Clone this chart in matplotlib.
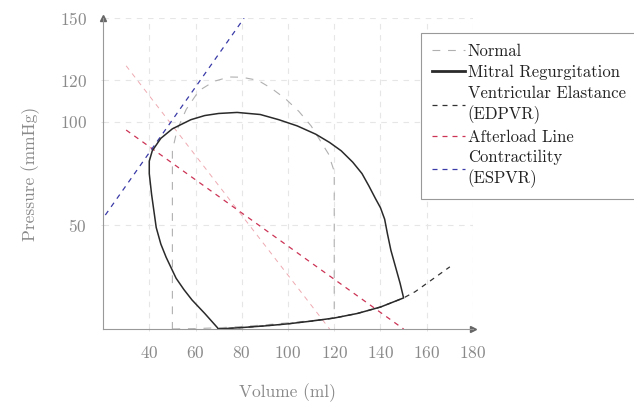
import numpy as np
import matplotlib
matplotlib.use("Agg")
import matplotlib.pyplot as plt

plt.rcParams['font.family'] = 'serif'
plt.rcParams['font.serif'] = ['cmr10', 'DejaVu Serif']
plt.rcParams['axes.formatter.use_mathtext'] = True

# mitral regurgitation loop (volume ml, pressure mmHg)
mr_vol = [70, 80, 90, 100, 110, 120, 130, 140, 150,
          148.5, 146.5, 144.5, 143, 141.8, 140, 137.8, 135, 132, 128, 123, 118, 112, 104, 96, 88, 78,
          70, 64, 58, 50, 45, 41.3, 40, 40, 41, 42, 43, 45, 47.3, 51.6, 55, 58.5, 64, 70]
mr_pres = [0, 0.7, 1.5, 2.5, 3.8, 5.3, 7.5, 10.6, 15,
           22, 30, 38, 46, 53, 58.5, 63, 69, 75, 80.5, 86, 90, 94, 98, 101, 103.5, 104.5,
           104, 103, 101, 96.6, 92, 86, 81, 75, 65, 57, 49, 41, 34.6, 24.5, 19, 14, 7.5, 0]

# normal loop
normal_vol = [50, 60, 70, 80, 90, 100, 110, 120, 120, 117.5, 110, 104.7, 99, 93, 87, 80,
              74.5, 68, 61.5, 56, 52, 50, 50]
normal_pres = [0, 0.2, 0.6, 1.2, 2, 3, 4, 5.3, 76, 84.5, 98, 105, 111, 116, 120, 121.5,
               121.6, 119.5, 115, 106, 96, 86, 0]

# end-diastolic pressure-volume relation
edpvr_vol = [70, 80, 90, 100, 110, 120, 130, 140, 150, 155, 160, 165, 170]
edpvr_pres = [0, 0.7, 1.5, 2.5, 3.8, 5.3, 7.5, 10.6, 15, 18, 22, 26, 30]

# afterload lines and contractility
afterload_vol = [30, 150]
afterload_pres = [96, 0]
afterload_normal_vol = [30, 118]
afterload_normal_pres = [127, 0]
espvr_vol = [21, 81]
espvr_pres = [55, 150]

x_ticks = [40, 60, 80, 100, 120, 140, 160, 180]
y_ticks = [50, 100, 120, 150]

fig = plt.figure(figsize=(6.34, 4.03), dpi=100)
ax = fig.add_axes([0.1625, 0.1836, 0.5835, 0.7714])

for x in x_ticks:
    ax.plot([x, x], [0, 150], color='#e6e6e6', lw=0.8, dashes=(5, 5), zorder=0)
for y in y_ticks:
    ax.plot([20, 180], [y, y], color='#e6e6e6', lw=0.8, dashes=(5, 5), zorder=0)

ax.plot(afterload_normal_vol, afterload_normal_pres, color='#eeaab2', lw=0.7, dashes=(5, 5))
l_norm, = ax.plot(normal_vol, normal_pres, color='#b0b0b0', lw=0.8, dashes=(7, 7))
l_ed, = ax.plot(edpvr_vol, edpvr_pres, color='#333333', lw=0.9, dashes=(4, 4))
l_aft, = ax.plot(afterload_vol, afterload_pres, color='#cc3355', lw=0.9, dashes=(4, 4))
l_esp, = ax.plot(espvr_vol, espvr_pres, color='#3a3aa8', lw=0.9, dashes=(4, 4))
l_mr, = ax.plot(mr_vol, mr_pres, color='#2a2a2a', lw=1.1)

ax.set_xlim(20, 180)
ax.set_ylim(0, 150)
for s in ['top', 'right']:
    ax.spines[s].set_visible(False)
for s in ['left', 'bottom']:
    ax.spines[s].set_color('#999999')
    ax.spines[s].set_linewidth(0.8)
ax.plot(1, 0, '>', color='#666666', ms=4, transform=ax.transAxes, clip_on=False)
ax.plot(0, 1, '^', color='#666666', ms=4, transform=ax.transAxes, clip_on=False)

ax.set_xticks(x_ticks)
ax.set_yticks(y_ticks)
ax.tick_params(length=3, width=0.6, direction='inout', labelsize=12.5, colors='#8a8a8a', pad=10)
ax.tick_params(axis='both', color='#dddddd')
for lab in ax.get_xticklabels():
    if lab.get_text() == '120':
        lab.set_color('#222222')

ax.set_xlabel('Volume (ml)', fontsize=12.5, color='#8a8a8a', labelpad=16)
ax.set_ylabel('Pressure (mmHg)', fontsize=12.5, color='#8a8a8a', labelpad=14)

leg = fig.legend([l_norm, l_mr, l_ed, l_aft, l_esp],
                 ['Normal', 'Mitral Regurgitation', 'Ventricular Elastance\n(EDPVR)',
                  'Afterload Line', 'Contractility\n(ESPVR)'],
                 loc='upper left', bbox_to_anchor=(0.664, 0.918), fontsize=12,
                 frameon=True, fancybox=False, framealpha=1, edgecolor='#999999',
                 handlelength=2.0, handletextpad=0.15, labelspacing=0.33,
                 borderpad=0.65, borderaxespad=0)
leg.get_frame().set_linewidth(0.8)
leg.get_lines()[1].set_linewidth(2)
for t in leg.get_texts():
    t.set_color('#222222')
    t.set_linespacing(1.3)

fig.savefig('out.png', dpi=100)
